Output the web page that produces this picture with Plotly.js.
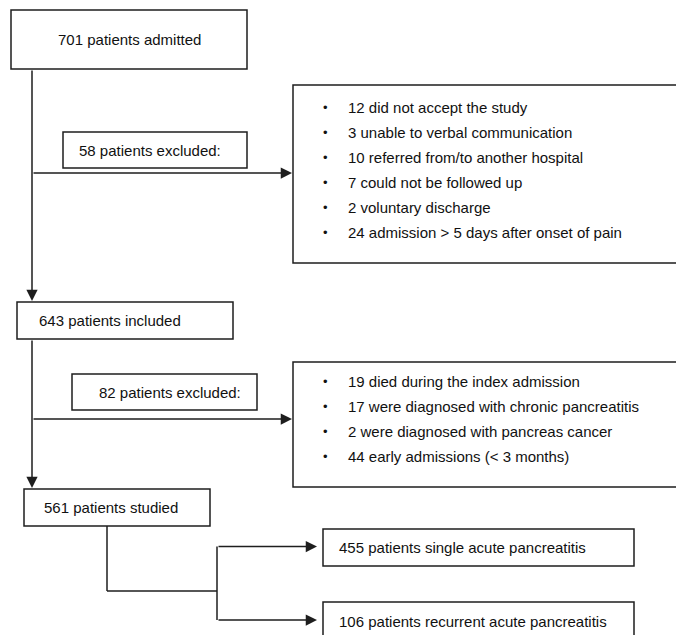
<!DOCTYPE html>
<html>
<head>
<meta charset="utf-8">
<script src="https://cdn.plot.ly/plotly-3.0.1.min.js"></script>
<style>html,body{margin:0;padding:0;background:#fff;}#chart{width:676px;height:635px;}</style>
</head>
<body>
<div id="chart"></div>
<script>
// ---- data ----
const stageCounts = [701, 643, 561];
const stageLabels = ["patients admitted", "patients included", "patients studied"];
const excludedCounts = [58, 82];
const excludedLabel = "patients excluded:";
const reasonCounts1 = [12, 3, 10, 7, 2, 24];
const reasonLabels1 = [
  "did not accept the study",
  "unable to verbal communication",
  "referred from/to another hospital",
  "could not be followed up",
  "voluntary discharge",
  "admission > 5 days after onset of pain"
];
const reasonCounts2 = [19, 17, 2, 44];
const reasonLabels2 = [
  "died during the index admission",
  "were diagnosed with chronic pancreatitis",
  "were diagnosed with pancreas cancer",
  "early admissions (< 3 months)"
];
const outcomeCounts = [455, 106];
const outcomeLabels = ["patients single acute pancreatitis", "patients recurrent acute pancreatitis"];

// ---- geometry (layout only) ----
const LC = "#1e1e1e";
const LW = 1.5;
const FONT = {family: "Liberation Sans, Arial, sans-serif", size: 15, color: "#111"};
const stageBoxes = [
  {x0: 11, x1: 247, y0: 10, y1: 69, tx: 129, anchor: "center"},
  {x0: 17, x1: 233, y0: 302, y1: 339, tx: 37, anchor: "left"},
  {x0: 24, x1: 210, y0: 489, y1: 526, tx: 42, anchor: "left"}
];
const exclBoxes = [
  {x0: 63, x1: 247, y0: 132, y1: 168, tx: 77},
  {x0: 72, x1: 257, y0: 374, y1: 410, tx: 97}
];
const reasonBoxes = [
  {x0: 293, x1: 700, y0: 85, y1: 263, rowY0: 107, dy: 25},
  {x0: 293, x1: 700, y0: 362, y1: 487, rowY0: 381, dy: 25.3}
];
const outcomeBoxes = [
  {x0: 323, x1: 634, y0: 529, y1: 566, tx: 337},
  {x0: 323, x1: 634, y0: 602, y1: 640, tx: 337}
];
const spineX = 32;
const exclArrowY = [173, 419];

const shapes = [];
const annotations = [];
function rect(b) {
  shapes.push({type: "rect", xref: "x", yref: "y", x0: b.x0, x1: b.x1, y0: b.y0, y1: b.y1,
    line: {color: LC, width: LW}, fillcolor: "rgba(0,0,0,0)"});
}
function line(x0, y0, x1, y1) {
  shapes.push({type: "line", xref: "x", yref: "y", x0, y0, x1, y1, line: {color: LC, width: LW}});
}
function arrow(x0, y0, x1, y1) {
  annotations.push({x: x1, y: y1, ax: x0, ay: y0, xref: "x", yref: "y", axref: "x", ayref: "y",
    text: "", showarrow: true, arrowhead: 2, arrowsize: 1.5, arrowwidth: LW, arrowcolor: LC, standoff: 0, startstandoff: 0});
}
function label(x, y, text, anchor) {
  annotations.push({x, y, xref: "x", yref: "y", text, showarrow: false, xanchor: anchor || "left",
    yanchor: "middle", font: FONT});
}

// stage boxes
stageBoxes.forEach((b, i) => {
  rect(b);
  label(b.tx, (b.y0 + b.y1) / 2, stageCounts[i] + " " + stageLabels[i], b.anchor);
});
// exclusion boxes
exclBoxes.forEach((b, i) => {
  rect(b);
  label(b.tx, (b.y0 + b.y1) / 2, excludedCounts[i] + " " + excludedLabel, "left");
});
// reason boxes
[[reasonCounts1, reasonLabels1], [reasonCounts2, reasonLabels2]].forEach(([cnt, lab], k) => {
  const b = reasonBoxes[k];
  rect(b);
  cnt.forEach((c, i) => {
    const y = b.rowY0 + i * b.dy;
    annotations.push({x: 325, y: y, xref: "x", yref: "y", text: "•", showarrow: false,
      xanchor: "center", yanchor: "middle", font: {family: FONT.family, size: 13, color: FONT.color}});
    label(346, y, c + " " + lab[i], "left");
  });
});
// outcome boxes
outcomeBoxes.forEach((b, i) => {
  rect(b);
  label(b.tx, (b.y0 + b.y1) / 2, outcomeCounts[i] + " " + outcomeLabels[i], "left");
});

// connectors
arrow(spineX, stageBoxes[0].y1, spineX, stageBoxes[1].y0 - 1);
arrow(spineX, exclArrowY[0], reasonBoxes[0].x0 - 1, exclArrowY[0]);
arrow(spineX, stageBoxes[1].y1, spineX, stageBoxes[2].y0 - 1);
arrow(spineX, exclArrowY[1], reasonBoxes[1].x0 - 1, exclArrowY[1]);
// branch from studied
const bx = 107, by = 591, jx = 217;
line(bx, stageBoxes[2].y1, bx, by);
line(bx, by, jx, by);
const oy = outcomeBoxes.map(b => (b.y0 + b.y1) / 2 - 1);
oy[1] = 620;
line(jx, oy[0], jx, oy[1]);
arrow(jx, oy[0], 317, oy[0]);
arrow(jx, oy[1], 317, oy[1]);

const layout = {
  width: 676, height: 635,
  margin: {l: 0, r: 0, t: 0, b: 0},
  paper_bgcolor: "#fff", plot_bgcolor: "#fff",
  showlegend: false,
  xaxis: {range: [0, 676], visible: false, fixedrange: true},
  yaxis: {range: [635, 0], visible: false, fixedrange: true},
  shapes, annotations
};
Plotly.newPlot("chart", [{x: [], y: [], type: "scatter", mode: "markers", hoverinfo: "skip"}], layout, {staticPlot: true});
</script>
</body>
</html>
